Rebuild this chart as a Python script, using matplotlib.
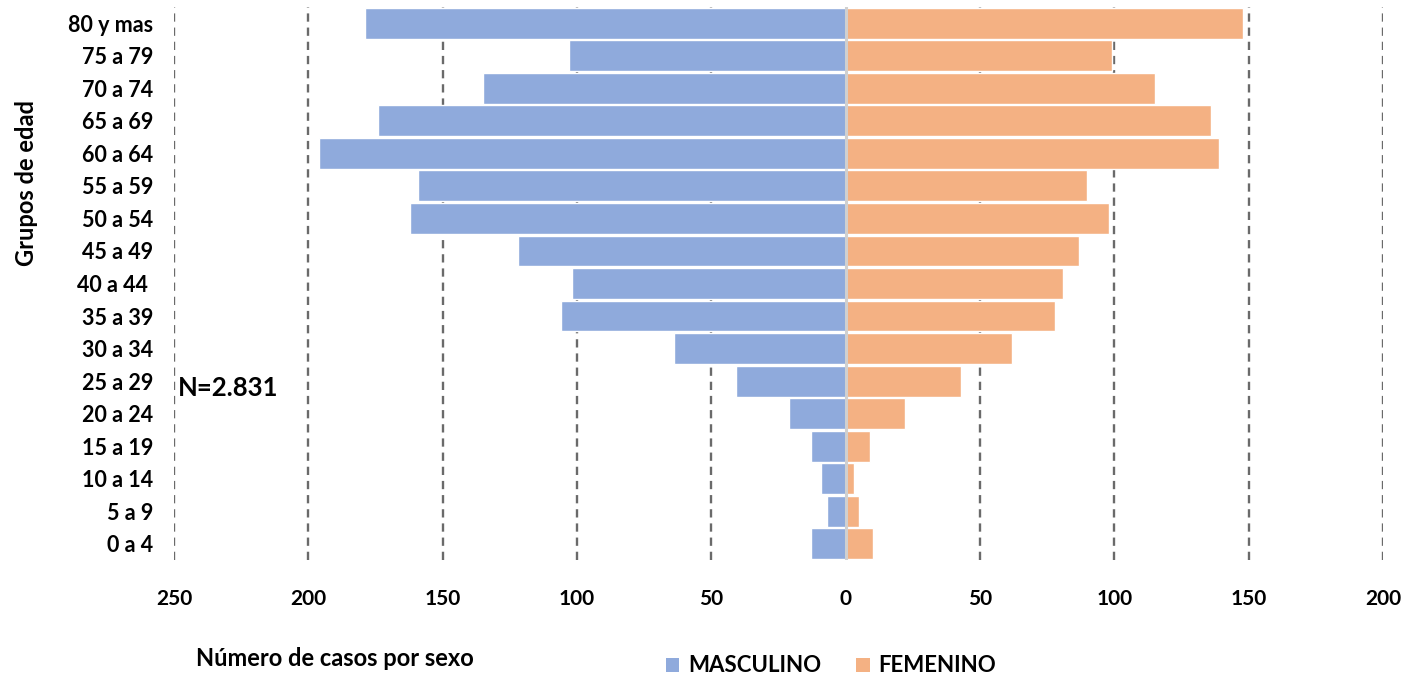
import matplotlib
matplotlib.use("Agg")
import matplotlib.pyplot as plt
from matplotlib.patches import Patch

grupos = ["0 a 4", "5 a 9", "10 a 14", "15 a 19", "20 a 24", "25 a 29", "30 a 34",
          "35 a 39", "40 a 44 ", "45 a 49", "50 a 54", "55 a 59", "60 a 64", "65 a 69",
          "70 a 74", "75 a 79", "80 y mas"]
masculino = [13, 7, 9, 13, 21, 41, 64, 106, 102, 122, 162, 159, 196, 174, 135, 103, 179]
femenino = [10, 5, 3, 9, 22, 43, 62, 78, 81, 87, 98, 90, 139, 136, 115, 99, 148]
xticks = [-250, -200, -150, -100, -50, 0, 50, 100, 150, 200]

BLUE = "#8FAADC"
ORANGE = "#F4B183"
FAM = ["Lato", "DejaVu Sans"]

fig = plt.figure(figsize=(14.06, 6.77), dpi=100)
ax = fig.add_axes([174/1406, 1-560/677, (1383-174)/1406, (560-7)/677])

y = list(range(len(grupos)))
neg_m = [-v for v in masculino]
ax.barh(y, neg_m, height=0.95, color=BLUE, edgecolor="white", linewidth=1.0, zorder=3)
ax.barh(y, femenino, height=0.95, color=ORANGE, edgecolor="white", linewidth=1.0, zorder=3)

ax.set_xlim(-250, 200)
ax.set_ylim(-0.5, len(grupos) - 0.5)

for xv in xticks:
    if xv == 0:
        continue
    ax.axvline(xv, color="#6a6a6a", linestyle=(0, (3.5, 2.5)), linewidth=1.7, zorder=1)
ax.axvline(0, color="#d0d0d0", linewidth=2.2, zorder=4)

for s in ax.spines.values():
    s.set_visible(False)

ax.set_xticks(xticks)
ax.set_xticklabels([str(abs(v)) for v in xticks], fontfamily=FAM,
                   fontweight="bold", fontsize=15)
ax.set_yticks(y)
ax.set_yticklabels(grupos, fontfamily=FAM, fontweight="bold", fontsize=15.5)
ax.tick_params(axis="x", length=0, pad=21)
ax.tick_params(axis="y", length=0, pad=15)

fig.text(27/1406, 1-183/677, "Grupos de edad", rotation=90, ha="center", va="center",
         fontfamily=FAM, fontweight="bold", fontsize=17)
fig.text(178/1406, 1-388/677, "N=2.831", ha="left", va="center",
         fontfamily=FAM, fontweight="bold", fontsize=18.5)
fig.text(196/1406, 1-659/677, "Número de casos por sexo", ha="left", va="center",
         fontfamily=FAM, fontweight="bold", fontsize=17)

handles = [Patch(facecolor=BLUE, edgecolor="none", label="MASCULINO"),
           Patch(facecolor=ORANGE, edgecolor="none", label="FEMENINO")]
fig.legend(handles=handles, loc="center", bbox_to_anchor=(831/1406, 1-666/677), ncol=2,
           frameon=False, handlelength=0.6, handleheight=0.6, handletextpad=0.4,
           columnspacing=1.6,
           prop={"family": FAM, "weight": "bold", "size": 16})

fig.savefig("out.png", dpi=100)
